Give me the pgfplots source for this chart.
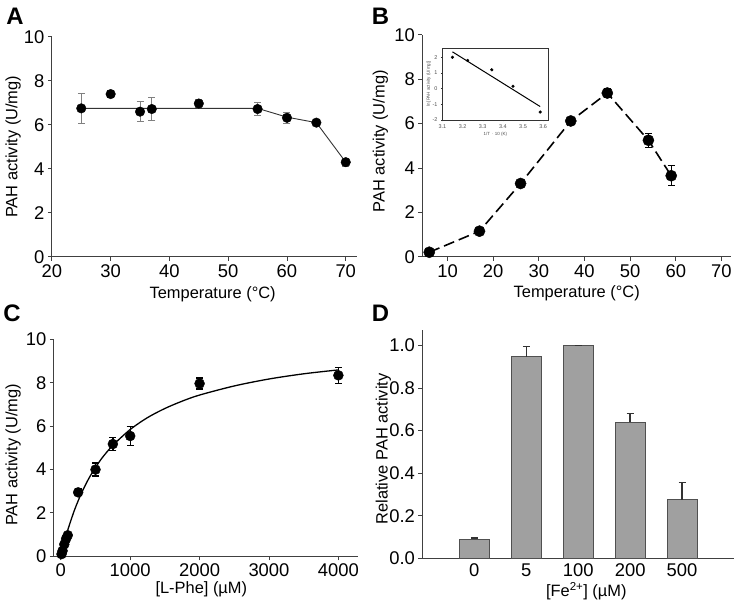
\documentclass[border=0pt]{standalone}
\usepackage{pgfplots}
\pgfplotsset{compat=1.18}
\usepackage{fontspec}
\setmainfont{Liberation Sans}
\definecolor{axgray}{HTML}{404040}
\definecolor{barfill}{HTML}{A0A0A0}
\definecolor{baredge}{HTML}{505050}
\pgfplotsset{
  panel/.style={
    scale only axis,
    anchor=south west,
    axis x line*=bottom, axis y line*=left,
    axis line style={axgray, line width=0.9bp},
    tick style={axgray, line width=0.9bp},
    tick align=outside,
    major tick length=4bp,
    /pgf/number format/assume math mode=true,
    tick label style={font=\fontsize{18.5}{20}\selectfont},
    label style={font=\fontsize{16.5}{18}\selectfont},
    xtick pos=bottom, ytick pos=left,
    clip=false,
  },
}
\begin{document}
\begin{tikzpicture}
\path (0bp,0bp) rectangle (738bp,608bp);
% panel letters
\node[font=\fontsize{24}{26}\selectfont\bfseries] at (14bp,592bp) {A};
\node[font=\fontsize{24}{26}\selectfont\bfseries] at (380bp,592bp) {B};
\node[font=\fontsize{24}{26}\selectfont\bfseries] at (11bp,294bp) {C};
\node[font=\fontsize{24}{26}\selectfont\bfseries] at (380bp,294bp) {D};

% ---------- A ----------
\begin{axis}[panel, at={(51bp,351bp)}, width=306bp, height=220bp,
  xmin=20, xmax=72, ymin=0, ymax=10,
  xtick={20,30,...,70}, ytick={0,2,...,10},
  xlabel={Temperature (°C)}, ylabel={PAH activity (U/mg)},
  xlabel style={at={(axis description cs:0.526,-0.173)}, anchor=center},
  ylabel style={at={(axis description cs:-0.127,0.5)}, anchor=center},
]
\addplot[black!80, line width=0.9bp] coordinates {(25,6.75) (55,6.75) (60,6.35) (65,6.1) (70,4.3)};
\addplot[only marks, mark=*, mark size=4.8bp, black,
  error bars/.cd, y dir=both, y explicit,
  error bar style={gray, line width=0.8bp},
  error mark options={rotate=90, gray, line width=0.8bp, mark size=3.5bp}]
  table[x=x, y=y, y error=e] {
x y e
25 6.75 0.70
30 7.40 0.15
35 6.60 0.45
37 6.72 0.52
45 6.97 0.17
55 6.72 0.30
60 6.32 0.25
65 6.10 0.06
70 4.30 0.17
};
\end{axis}

% ---------- B ----------
\begin{axis}[panel, at={(422bp,351bp)}, width=309bp, height=222bp,
  xmin=4.5, xmax=72.1, ymin=0, ymax=10,
  xtick={10,20,...,70}, ytick={0,2,...,10},
  xlabel={Temperature (°C)}, ylabel={PAH activity (U/mg)},
  xlabel style={at={(axis description cs:0.5,-0.167)}, anchor=center},
  ylabel style={at={(axis description cs:-0.136,0.52)}, anchor=center},
]
\addplot[black, line width=1.6bp, dash pattern=on 11bp off 5bp] coordinates {(6,0.2) (17,1.15) (26,3.3) (37,6.12) (45,7.38) (54,5.25) (59,3.65)};
\addplot[only marks, mark=*, mark size=5.6bp, black,
  error bars/.cd, y dir=both, y explicit,
  error bar style={black, line width=1.3bp},
  error mark options={rotate=90, black, line width=1.3bp, mark size=3.5bp}]
  table[x=x, y=y, y error=e] {
x y e
6 0.2 0.05
17 1.15 0.1
26 3.3 0.1
37 6.12 0.1
45 7.38 0.2
54 5.25 0.32
59 3.65 0.45
};
\end{axis}

% inset
\begin{axis}[scale only axis, anchor=south west, at={(442bp,488bp)}, width=106bp, height=72bp,
  xmin=3.1, xmax=3.625, ymin=-2, ymax=2.6,
  xtick={3.1,3.2,...,3.6}, ytick={-2,-1,0,1,2},
  /pgf/number format/assume math mode=true,
  tick label style={font=\fontsize{5.5}{6}\selectfont, gray!60!black},
  label style={font=\fontsize{4.5}{5}\selectfont, gray!60!black},
  axis line style={black!80, line width=0.6bp},
  tick style={black!80, line width=0.4bp},
  tick align=outside, major tick length=1.5bp,
  xtick pos=bottom, ytick pos=left, clip=false,
  xlabel={1/T $\cdot$ 10 (K)}, ylabel={ln [PAH activity (U/mg)]},
  xlabel style={at={(axis description cs:0.5,-0.2)}, anchor=center},
  ylabel style={at={(axis description cs:-0.13,0.5)}, anchor=center},
  xticklabel={\pgfmathprintnumber[fixed,precision=1,fixed zerofill]{\tick}},
]
\addplot[black, line width=1bp] coordinates {(3.15,2.35) (3.585,-1.15)};
\addplot[only marks, mark=*, mark size=1.4bp, black] coordinates {(3.15,2.0) (3.225,1.8) (3.345,1.2) (3.45,0.15) (3.585,-1.5)};
\end{axis}

% ---------- C ----------
\begin{axis}[panel, at={(53bp,51bp)}, width=305bp, height=217bp,
  xmin=-100, xmax=4290, ymin=0, ymax=10,
  xtick={0,1000,...,4000}, ytick={0,2,...,10},
  scaled x ticks=false,
  /pgf/number format/set thousands separator={},
  xlabel={[L-Phe] (µM)}, ylabel={PAH activity (U/mg)},
  xlabel style={at={(axis description cs:0.484,-0.152)}, anchor=center},
  ylabel style={at={(axis description cs:-0.134,0.468)}, anchor=center},
]
\addplot[black, line width=1.3bp, smooth] coordinates {
(0,0) (50,0.64) (100,1.21) (200,2.16) (300,2.93) (400,3.57) (500,4.10) (600,4.56)
(750,5.12) (1000,5.85) (1250,6.40) (1500,6.82) (1750,7.16) (2000,7.44) (2500,7.86)
(3000,8.18) (3500,8.42) (4000,8.60)};
\addplot[only marks, mark=*, mark size=5bp, black,
  error bars/.cd, y dir=both, y explicit,
  error bar style={black, line width=1.3bp},
  error mark options={rotate=90, black, line width=1.3bp, mark size=3.5bp}]
  table[x=x, y=y, y error=e] {
x y e
10 0.1 0
25 0.25 0
50 0.55 0
75 0.8 0
100 0.97 0
250 2.95 0.15
500 4.0 0.3
750 5.18 0.3
1000 5.55 0.45
2000 7.97 0.25
4000 8.35 0.37
};
\end{axis}

% ---------- D ----------
\begin{axis}[panel, at={(422bp,49bp)}, width=312bp, height=229bp,
  xmin=-1, xmax=5, ymin=0, ymax=1.075,
  xtick={0,1,2,3,4}, xticklabels={0,5,100,200,500},
  ytick={0,0.2,...,1.0},
  yticklabel={\pgfmathprintnumber[fixed,precision=1,fixed zerofill]{\tick}},
  xtick style={draw=none},
  xticklabel style={yshift=2bp},
  xlabel={[Fe\textsuperscript{2+}] (µM)}, ylabel={Relative PAH activity},
  xlabel style={at={(axis description cs:0.526,-0.143)}, anchor=center},
  ylabel style={at={(axis description cs:-0.125,0.478)}, anchor=center},
]
\addplot[ybar, bar width=30bp, fill=barfill, draw=baredge, line width=1bp,
  error bars/.cd, y dir=plus, y explicit,
  error bar style={black!80, line width=1.3bp},
  error mark options={rotate=90, black!80, line width=1.3bp, mark size=3.5bp}]
  table[x=x, y=y, y error=e] {
x y e
0 0.09 0.005
1 0.948 0.047
2 1.0 0
3 0.64 0.042
4 0.274 0.082
};
\end{axis}
\end{tikzpicture}
\end{document}
